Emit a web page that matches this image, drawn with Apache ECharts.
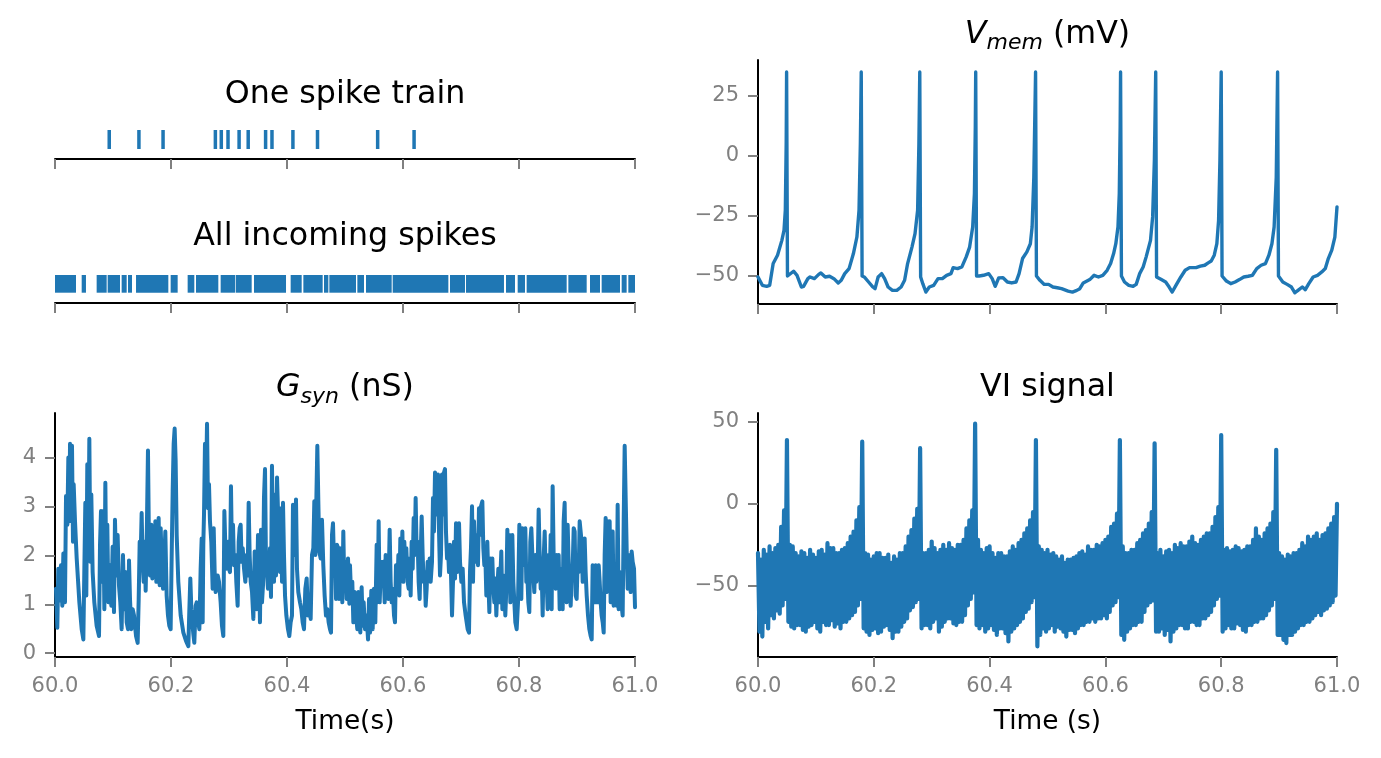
<!DOCTYPE html>
<html><head><meta charset="utf-8">
<script src="https://cdn.jsdelivr.net/npm/echarts@6/dist/echarts.min.js"></script>
<style>html,body{margin:0;padding:0;background:#fff}#c{width:1381px;height:758px}</style>
</head><body><div id="c"></div>
<script>
// ---------- DATA (times in ms after t = 60 s unless noted) ----------
const spikeTrainTimes = [93.5, 144.7, 186.3, 276.5, 286.7, 298.3, 317.4, 333.1, 363.1, 374.1, 410.2, 452.6, 556.3, 619.1];

// merged runs of incoming spikes [start ms, end ms]
const incomingBursts = [[0,36.2],[46,53.4],[71.8,89.1],[90.8,112.1],[114.9,123.6],[125.9,132.8],[139.7,195.4],[199.4,211.5],[228.7,240.2],[243.1,281.6],[285.6,310.3],[311.5,339.1],[343.1,398.3],[406.3,425.3],[428.2,461.5],[463.8,471.3],[473,519],[521.3,532.8],[536.2,580.5],[582.2,678.2],[681,706.9],[708.6,774.1],[777.6,793.1],[797.7,810.3],[813.2,882.2],[885.1,916.7],[922.4,939.7],[942.5,974.1],[977,985.6],[988.5,1000]];

// membrane potential [ms, mV]
const vmemSamples = [[0,-50.7],[7.5,-54.2],[15,-54.6],[20.2,-54.2],[26.2,-45.1],[33.7,-41.6],[41.2,-35.4],[44.9,-31.2],[47.2,-22.8],[48.7,5.1],[49.4,35.0],[50.9,-50.3],[53.9,-51.0],[61.4,-48.3],[67.4,-50.0],[74.9,-54.9],[78.7,-54.6],[86.1,-51.4],[89.9,-50.7],[97.4,-51.4],[104.9,-49.6],[108.6,-49.0],[116.1,-50.7],[123.6,-50.4],[131.1,-51.4],[138.6,-53.2],[143.8,-52.1],[149.8,-49.3],[157.3,-47.2],[164.8,-40.9],[170.8,-34.0],[174.5,-22.8],[176.8,5.1],[178.3,35.0],[179.8,-50.3],[183.5,-50.7],[191.0,-52.8],[198.5,-54.9],[202.2,-55.6],[207.5,-50.7],[213.5,-49.3],[218.7,-51.4],[224.7,-54.9],[232.2,-56.3],[239.7,-56.3],[247.2,-54.9],[253.2,-52.1],[258.4,-45.1],[265.9,-38.2],[271.2,-32.6],[275.7,-22.8],[277.9,5.1],[279.4,35.0],[280.9,-50.7],[284.6,-53.5],[289.9,-57.0],[295.9,-54.9],[303.4,-54.2],[310.9,-51.4],[318.4,-51.4],[325.8,-50.0],[333.3,-49.3],[337.1,-46.8],[344.6,-47.2],[352.1,-46.5],[359.6,-42.3],[365.5,-38.2],[370.8,-29.8],[373.8,-15.8],[375.3,12.0],[376.0,35.0],[377.5,-50.3],[382.0,-50.3],[389.5,-50.0],[398.5,-49.3],[404.5,-51.4],[409.7,-54.6],[415.7,-51.1],[423.2,-51.0],[430.7,-52.8],[438.2,-53.2],[445.7,-52.8],[450.9,-49.3],[456.9,-43.0],[464.4,-40.2],[470.4,-36.8],[473.4,-29.8],[476.4,-8.9],[479.4,35.0],[480.9,-50.3],[486.9,-52.1],[494.4,-53.8],[501.9,-53.8],[509.4,-54.9],[516.9,-55.2],[524.3,-55.6],[535.6,-56.6],[543.1,-57.0],[550.6,-56.3],[555.8,-55.6],[561.8,-53.2],[573.0,-51.8],[580.5,-50.0],[588.0,-50.7],[595.5,-50.0],[603.0,-47.9],[609.0,-45.1],[614.2,-40.9],[618.0,-36.8],[621.7,-29.8],[624.0,-15.8],[625.5,12.0],[626.2,35.0],[627.7,-50.3],[633.0,-52.8],[640.4,-54.2],[647.9,-54.6],[653.2,-53.8],[659.2,-49.3],[665.2,-46.5],[670.4,-42.3],[677.9,-35.4],[681.6,-25.6],[684.6,-1.9],[686.9,35.0],[688.4,-50.7],[696.6,-51.8],[704.1,-52.8],[710.1,-54.9],[715.4,-57.0],[722.8,-53.8],[730.3,-50.7],[737.8,-47.9],[745.3,-46.8],[756.6,-46.8],[764.0,-46.2],[771.5,-45.8],[777.5,-44.8],[782.8,-44.0],[788.0,-41.6],[792.5,-36.8],[795.5,-27.0],[797.8,-1.9],[800.0,35.0],[801.5,-50.3],[809.0,-52.4],[816.5,-53.5],[824.0,-52.8],[831.5,-51.8],[839.0,-50.7],[846.4,-50.4],[853.9,-50.0],[861.4,-47.2],[868.9,-45.8],[876.4,-45.1],[882.4,-41.6],[887.6,-36.8],[891.4,-29.8],[895.1,-8.9],[897.4,35.0],[898.9,-50.3],[906.4,-52.8],[913.9,-53.8],[921.3,-54.9],[927.3,-57.3],[932.6,-56.3],[940.1,-54.9],[945.3,-56.0],[951.3,-53.5],[958.8,-50.7],[966.3,-50.0],[973.8,-48.6],[979.8,-47.2],[985.0,-43.0],[991.0,-39.5],[996.3,-34.0],[1000.0,-21.4]];

// synaptic conductance [ms, nS]
const gsynSamples = [[1.7,1.32],[4.0,0.52],[5.7,1.73],[8.6,1.08],[10.3,1.80],[12.6,0.97],[14.4,2.04],[17.2,1.04],[19.0,3.22],[21.3,2.63],[23.0,4.01],[24.7,2.70],[25.9,4.29],[27.6,2.84],[29.3,4.25],[31.0,2.28],[32.2,3.46],[34.5,2.70],[37.4,1.94],[42.0,1.04],[46.0,0.49],[48.9,0.28],[50.6,1.73],[52.3,3.08],[54.0,1.18],[55.7,3.87],[57.5,1.94],[59.2,4.39],[60.9,1.87],[62.6,3.25],[64.9,1.66],[67.8,1.04],[71.8,0.56],[75.9,0.35],[77.6,2.22],[79.3,2.91],[81.0,1.46],[83.3,2.91],[85.1,0.90],[86.8,3.49],[88.5,1.39],[90.2,2.63],[92.0,1.04],[94.8,1.80],[97.1,0.97],[99.4,2.18],[101.7,0.84],[103.4,2.73],[105.7,1.59],[108.0,2.42],[110.3,1.39],[112.6,1.04],[114.9,0.49],[117.2,2.01],[119.5,0.90],[121.3,1.66],[123.6,0.63],[125.9,0.49],[127.6,1.90],[129.3,1.11],[131.6,0.49],[133.9,0.90],[136.2,0.77],[139.7,0.35],[142.5,0.21],[144.3,1.11],[146.0,2.28],[147.7,2.01],[149.4,2.87],[151.1,1.87],[152.9,1.46],[154.6,2.28],[156.3,1.28],[158.0,2.22],[160.3,4.15],[162.1,2.15],[163.8,1.59],[166.1,2.63],[167.8,1.53],[169.5,2.49],[171.3,1.73],[173.0,2.70],[174.7,1.46],[176.4,2.01],[178.7,2.77],[180.5,1.39],[182.2,2.56],[184.5,1.66],[186.2,1.32],[188.5,1.94],[190.2,2.49],[192.5,1.18],[194.8,0.77],[197.1,0.56],[199.4,0.49],[201.1,1.94],[202.9,3.32],[204.6,4.29],[206.3,4.60],[208.0,3.94],[209.8,2.42],[212.6,1.46],[216.7,0.77],[221.3,0.42],[225.9,0.25],[229.9,0.14],[231.6,0.87],[233.3,1.53],[235.1,0.90],[236.8,0.63],[238.5,0.39],[240.2,0.21],[242.5,0.97],[244.3,1.04],[246.0,0.70],[248.9,0.49],[251.1,1.73],[252.9,2.35],[254.6,0.63],[255.7,2.22],[256.9,2.84],[258.6,4.29],[260.3,3.32],[262.1,4.70],[263.8,2.97],[265.5,3.46],[267.2,2.70],[269.5,2.28],[271.8,1.32],[273.6,2.56],[275.3,1.66],[277.0,1.25],[278.7,1.25],[280.5,1.59],[282.8,1.46],[285.6,1.04],[287.9,0.56],[290.2,0.35],[292.0,2.91],[294.3,1.94],[296.0,1.73],[298.3,2.28],[300.0,1.73],[301.7,1.66],[303.4,3.42],[305.2,1.94],[306.9,2.63],[308.6,1.80],[310.9,2.01],[312.6,1.46],[314.9,0.97],[316.7,2.28],[318.4,2.56],[320.1,2.63],[321.8,1.87],[323.6,2.15],[325.9,1.73],[328.2,1.46],[330.5,2.01],[332.2,1.59],[333.9,3.08],[335.6,2.01],[337.4,1.46],[339.7,1.25],[342.0,0.70],[344.3,2.08],[346.0,1.46],[347.7,0.90],[350.0,2.42],[351.7,1.80],[353.4,0.63],[355.2,2.53],[356.9,1.04],[358.6,1.39],[360.3,3.18],[362.1,3.77],[363.8,1.80],[365.5,1.59],[367.2,1.32],[369.0,1.32],[370.7,2.15],[372.4,1.15],[374.1,3.84],[375.9,2.22],[377.6,1.46],[379.3,3.25],[381.0,1.59],[382.8,3.60],[384.5,2.91],[386.2,1.87],[387.9,1.66],[389.7,2.97],[391.4,1.46],[393.1,3.08],[394.8,2.01],[396.6,1.18],[398.9,0.77],[401.7,0.49],[404.0,0.35],[406.3,0.63],[408.6,0.77],[410.3,3.04],[412.1,2.15],[413.8,2.01],[415.5,3.15],[417.2,1.73],[419.5,1.25],[422.4,1.04],[424.7,0.90],[427.0,0.63],[429.3,0.49],[431.6,1.32],[433.9,1.53],[436.2,0.77],[438.5,1.11],[440.8,0.70],[443.1,2.01],[445.4,2.15],[447.1,3.11],[448.9,2.01],[450.6,3.15],[452.3,4.25],[454.0,3.11],[455.7,2.08],[458.0,1.94],[460.3,2.73],[462.6,1.80],[464.9,1.18],[467.2,0.77],[469.5,0.90],[471.8,0.63],[474.1,0.49],[475.9,0.42],[477.6,2.42],[479.3,2.66],[481.0,1.87],[482.8,2.15],[484.5,1.11],[486.2,2.22],[487.9,2.15],[489.7,1.11],[491.4,2.15],[493.7,1.94],[495.4,1.04],[497.1,2.49],[498.9,1.32],[500.6,1.87],[502.9,1.11],[505.2,1.94],[507.5,1.01],[508.6,1.80],[510.9,1.04],[512.6,1.46],[514.4,0.63],[516.7,1.25],[519.0,0.77],[521.3,0.49],[523.0,1.25],[524.7,0.63],[526.4,0.42],[528.7,1.35],[530.5,0.56],[532.2,1.04],[534.5,0.49],[537.4,0.77],[539.7,0.28],[541.4,1.11],[543.1,0.42],[545.4,1.28],[547.7,0.49],[550.0,1.32],[552.3,0.63],[554.6,2.22],[556.3,1.04],[558.0,2.70],[559.8,1.04],[562.1,1.87],[564.4,1.39],[566.1,1.87],[568.4,1.04],[570.1,2.01],[572.4,1.46],[574.7,1.11],[577.0,2.53],[578.7,1.46],[580.5,1.04],[582.2,1.32],[584.5,0.77],[586.2,0.63],[587.9,1.80],[590.2,1.25],[592.0,2.01],[593.7,1.18],[595.4,2.35],[597.1,1.59],[598.9,2.49],[600.6,1.46],[602.3,2.28],[604.0,1.73],[605.7,2.15],[608.0,1.46],[609.8,1.32],[611.5,1.94],[613.2,1.18],[614.9,2.28],[616.7,1.73],[618.4,2.77],[620.1,2.01],[621.8,3.18],[623.6,2.01],[625.3,2.28],[627.0,1.46],[628.7,1.11],[630.5,2.01],[632.2,2.80],[633.9,2.01],[635.6,1.46],[637.4,1.66],[639.1,0.97],[640.8,1.32],[642.5,1.87],[644.3,1.73],[646.0,1.94],[647.7,1.46],[650.0,1.87],[651.7,3.18],[653.4,2.49],[655.2,3.70],[656.9,2.84],[658.6,3.32],[660.3,3.66],[662.1,2.49],[663.8,1.59],[665.5,2.01],[667.2,3.66],[669.0,2.84],[670.7,3.70],[672.4,3.77],[674.1,2.49],[675.9,1.94],[677.6,2.15],[679.3,1.66],[681.0,2.22],[682.8,1.59],[684.5,0.77],[686.2,1.46],[687.9,2.28],[689.7,1.53],[691.4,2.66],[693.1,1.66],[694.8,2.15],[696.6,2.66],[698.3,1.87],[700.6,1.46],[702.9,1.73],[705.2,1.04],[708.0,0.77],[711.5,0.49],[713.8,0.42],[715.5,1.66],[717.2,2.15],[719.0,3.01],[720.7,1.46],[722.4,2.70],[724.1,2.01],[725.9,1.87],[727.6,2.42],[729.3,1.80],[731.0,2.97],[732.8,2.42],[734.5,3.01],[736.8,3.11],[738.5,2.15],[740.2,1.80],[741.9,2.01],[743.7,1.18],[745.4,2.28],[747.1,1.53],[748.9,0.84],[750.6,1.94],[752.3,1.39],[754.0,1.94],[755.7,1.32],[757.5,1.04],[759.2,1.53],[760.9,0.77],[762.6,1.32],[764.4,1.73],[766.1,1.04],[767.8,1.53],[769.5,2.08],[771.3,0.90],[773.0,1.59],[774.7,1.32],[776.4,0.77],[778.2,1.32],[779.9,2.53],[781.6,1.59],[783.3,2.42],[785.1,1.04],[786.8,1.32],[788.5,2.42],[790.2,1.46],[792.0,1.04],[793.7,0.63],[796.0,0.49],[798.3,1.04],[800.6,2.63],[802.3,2.01],[804.0,1.11],[805.7,2.56],[807.5,1.80],[809.2,1.87],[810.9,2.56],[812.6,1.46],[814.4,1.59],[816.1,1.04],[817.8,0.84],[819.5,2.28],[821.3,2.56],[823.0,2.01],[824.7,1.59],[826.4,1.25],[828.2,2.01],[829.9,1.46],[832.2,1.73],[833.9,2.94],[835.6,2.01],[837.4,1.32],[839.1,1.66],[840.8,0.77],[842.5,1.94],[844.3,2.49],[846.0,1.59],[847.7,1.46],[849.4,0.90],[851.1,2.01],[852.9,1.46],[854.6,2.42],[856.3,0.90],[858.0,3.42],[859.8,1.94],[861.5,1.87],[863.2,1.32],[864.9,2.01],[866.7,1.59],[868.4,2.01],[870.1,0.90],[871.8,1.59],[873.6,1.73],[875.3,0.90],[877.0,2.70],[878.7,3.08],[880.5,1.46],[882.2,1.04],[883.9,2.63],[885.6,1.87],[887.4,1.32],[889.1,0.97],[890.8,1.59],[892.5,1.73],[894.3,2.56],[896.0,2.49],[897.7,1.18],[899.4,1.11],[901.1,1.87],[902.9,1.66],[904.6,2.70],[906.3,2.70],[908.0,2.28],[909.8,1.46],[911.5,1.80],[913.2,2.35],[914.9,1.66],[916.7,1.18],[919.0,0.77],[921.3,0.49],[923.6,0.35],[925.3,0.28],[927.0,1.80],[928.7,1.80],[930.5,1.04],[932.2,1.80],[933.9,1.80],[935.6,1.04],[937.4,1.80],[939.1,1.46],[940.8,1.04],[942.5,0.77],[944.3,0.63],[946.0,0.42],[947.7,2.01],[949.4,2.77],[951.1,1.25],[952.9,2.70],[954.6,2.28],[956.3,2.70],[958.0,1.04],[959.8,2.35],[961.5,2.49],[963.2,0.97],[964.9,1.04],[966.7,1.59],[968.4,0.97],[970.1,3.04],[971.8,0.90],[973.6,1.66],[975.3,1.46],[977.0,0.97],[978.7,0.77],[980.5,2.70],[982.2,4.25],[983.9,3.18],[985.6,2.15],[987.4,1.32],[989.1,2.01],[990.8,2.01],[992.5,1.25],[994.3,2.08],[996.0,1.87],[998.3,1.73],[1000.0,0.94]];

// VI signal, one value every viSampleMs
const viSampleMs = 2.5;
const viValues = [
-30,-78,-34,-81, -28,-72,-31,-76, -26,-68,-30,-70, -27,-65,-25,-67, -14,-62,-4,-58,
39,-72,-25,-75, -26,-76,-30,-74, -32,-74,-29,-77, -30,-78,-33,-75, -28,-74,-31,-72,
-33,-76,-29,-78, -28,-72,-31,-74, -24,-74,-27,-71, -27,-75,-30,-73, -30,-76,-28,-72,
-27,-72,-24,-70, -20,-68,-17,-66, -10,-62,-2,-58, 38,-76,-30,-78, -31,-80,-34,-77,
-32,-76,-30,-79, -30,-78,-33,-75, -33,-74,-31,-77, -36,-82,-32,-78, -34,-78,-30,-75,
-30,-72,-26,-70, -20,-65,-16,-63, -9,-60,-3,-58, 34,-76,-30,-74, -30,-74,-28,-76,
-23,-72,-27,-70, -30,-78,-28,-75, -25,-72,-28,-70, -24,-70,-27,-73, -28,-74,-25,-72,
-25,-72,-22,-68, -15,-62,-10,-58, -4,-54,49,-74, -22,-76,-28,-74, -30,-78,-27,-76,
-26,-74,-30,-77, -33,-80,-30,-76, -30,-76,-32,-79, -32,-84,-29,-78, -26,-76,-28,-74,
-24,-72,-22,-70, -18,-66,-15,-64, -10,-60,-5,-57, 39,-87,-26,-80, -28,-76,-30,-78,
-28,-76,-31,-74, -30,-78,-32,-75, -34,-76,-32,-78, -36,-81,-34,-77, -34,-77,-33,-79,
-32,-76,-30,-74, -29,-74,-31,-72, -26,-72,-28,-70, -28,-72,-25,-70, -26,-70,-24,-68,
-22,-70,-20,-66, -14,-62,-12,-60, -6,-57,39,-80, -26,-83,-30,-78, -30,-76,-28,-74,
-28,-74,-24,-72, -22,-72,-18,-66, -16,-62,-12,-60, -5,-59,37,-78, -30,-78,-28,-76,
-32,-80,-29,-77, -28,-84,-30,-78, -25,-76,-27,-74, -24,-74,-26,-76, -26,-76,-23,-72,
-20,-72,-24,-74, -25,-74,-22,-70, -20,-70,-18,-68, -18,-66,-14,-62, -8,-58,-2,-56,
42,-78,-28,-76, -27,-74,-29,-76, -28,-76,-26,-73, -27,-74,-29,-77, -28,-78,-26,-74,
-26,-74,-22,-72, -15,-72,-20,-70, -22,-70,-18,-68, -15,-65,-12,-62, -5,-58,33,-80,
-30,-80,-32,-83, -34,-85,-31,-80, -32,-80,-30,-78, -30,-76,-28,-74, -24,-74,-26,-72,
-20,-72,-22,-70, -20,-68,-18,-66, -22,-68,-19,-65, -18,-64,-15,-62, -12,-60,-8,-56,
0];

const timeTicks = [60, 60.2, 60.4, 60.6, 60.8, 61];
const vmemTicks = [-50, -25, 0, 25];
const gsynTicks = [0, 1, 2, 3, 4];
const viTicks = [-50, 0, 50];

// ---------- CHART ----------
const T0 = 60;
const toSec = ms => T0 + ms / 1000;
const BLUE = '#1f77b4';
const GRAY = '#808080';
const FONT = 'DejaVu Sans';
const minus = v => (v < 0 ? '\u2212' + Math.abs(v) : String(v));

function xAxisCfg(gi, showLabels) {
  return {
    type: 'value', gridIndex: gi, min: 60, max: 61,
    splitLine: {show: false},
    axisLine: {show: true, onZero: false, lineStyle: {color: '#000', width: 2}},
    axisTick: {show: true, length: 10, customValues: timeTicks, lineStyle: {color: GRAY, width: 2}},
    axisLabel: {show: showLabels, customValues: timeTicks, formatter: v => v.toFixed(1),
      color: GRAY, fontSize: 21, fontFamily: FONT, margin: 19}
  };
}
function yAxisCfg(gi, min, max, ticks) {
  return {
    type: 'value', gridIndex: gi, min, max,
    splitLine: {show: false},
    axisLine: {show: true, onZero: false, lineStyle: {color: '#000', width: 2}},
    axisTick: {show: true, length: 10, customValues: ticks, lineStyle: {color: GRAY, width: 2}},
    axisLabel: {show: true, customValues: ticks, formatter: minus,
      color: GRAY, fontSize: 21, fontFamily: FONT, margin: 19}
  };
}
const hiddenY = gi => ({type: 'value', gridIndex: gi, min: 0, max: 1, show: false});

const titleBase = {textAlign: 'center', textVerticalAlign: 'middle', padding: 0};
const tStyle = {fontFamily: FONT, fontSize: 31.7, fontWeight: 'normal', color: '#000'};
const richMath = {
  it: {fontFamily: FONT, fontStyle: 'italic', fontWeight: 'normal', fontSize: 31.7, lineHeight: 40, color: '#000'},
  sub: {fontFamily: FONT, fontStyle: 'italic', fontWeight: 'normal', fontSize: 22, lineHeight: 40, verticalAlign: 'bottom', color: '#000'},
  n: {fontFamily: FONT, fontWeight: 'normal', fontSize: 31.7, lineHeight: 40, color: '#000'}
};
const mathStyle = {fontFamily: FONT, fontWeight: 'normal', fontSize: 31.7, color: '#000', rich: richMath};

const option = {
  animation: false,
  backgroundColor: '#fff',
  grid: [
    {left: 55, top: 121, width: 580, height: 38},
    {left: 55, top: 263, width: 580, height: 40},
    {left: 758, top: 60, width: 579, height: 244},
    {left: 55, top: 413, width: 580, height: 244},
    {left: 758, top: 413, width: 579, height: 244}
  ],
  title: [
    Object.assign({text: 'One spike train', left: 345, top: 95, textStyle: tStyle}, titleBase),
    Object.assign({text: 'All incoming spikes', left: 345, top: 237, textStyle: tStyle}, titleBase),
    Object.assign({text: '{it|V}{sub|mem}{n| (mV)}', left: 1047.5, top: 34.5, textStyle: mathStyle}, titleBase),
    Object.assign({text: '{it|G}{sub|syn}{n| (nS)}', left: 345, top: 388, textStyle: mathStyle}, titleBase),
    Object.assign({text: 'VI signal', left: 1047.5, top: 388, textStyle: tStyle}, titleBase),
    Object.assign({text: 'Time(s)', left: 345, top: 722, textStyle: {fontFamily: FONT, fontSize: 26.4, fontWeight: 'normal', color: '#000'}}, titleBase),
    Object.assign({text: 'Time (s)', left: 1047.5, top: 722, textStyle: {fontFamily: FONT, fontSize: 26.4, fontWeight: 'normal', color: '#000'}}, titleBase)
  ],
  xAxis: [xAxisCfg(0, false), xAxisCfg(1, false), xAxisCfg(2, false), xAxisCfg(3, true), xAxisCfg(4, true)],
  yAxis: [hiddenY(0), hiddenY(1), yAxisCfg(2, -62, 40, vmemTicks), yAxisCfg(3, -0.08, 4.92, gsynTicks), yAxisCfg(4, -93.5, 55.5, viTicks)],
  series: [
    {
      type: 'custom', xAxisIndex: 0, yAxisIndex: 0, silent: true,
      data: spikeTrainTimes.map(ms => [toSec(ms), 0.5]),
      renderItem: (params, api) => {
        const a = api.coord([api.value(0), 0.263]);
        const b = api.coord([api.value(0), 0.763]);
        return {type: 'line', shape: {x1: a[0], y1: a[1], x2: b[0], y2: b[1]}, style: {stroke: BLUE, lineWidth: 3.5}};
      }
    },
    {
      type: 'custom', xAxisIndex: 1, yAxisIndex: 1, silent: true,
      data: incomingBursts.map(r => [toSec(r[0]), toSec(r[1])]),
      encode: {x: [0, 1]},
      renderItem: (params, api) => {
        const a = api.coord([api.value(0), 0.2575]);
        const b = api.coord([api.value(1), 0.7]);
        return {type: 'rect', shape: {x: a[0], y: b[1], width: b[0] - a[0], height: a[1] - b[1]}, style: {fill: BLUE}};
      }
    },
    {
      type: 'line', xAxisIndex: 2, yAxisIndex: 2, silent: true, showSymbol: false, symbol: 'none',
      data: vmemSamples.map(p => [toSec(p[0]), p[1]]),
      lineStyle: {color: BLUE, width: 3.4, join: 'round', cap: 'round'}
    },
    {
      type: 'line', xAxisIndex: 3, yAxisIndex: 3, silent: true, showSymbol: false, symbol: 'none',
      data: gsynSamples.map(p => [toSec(p[0]), p[1]]),
      lineStyle: {color: BLUE, width: 4, join: 'round', cap: 'round'}
    },
    {
      type: 'line', xAxisIndex: 4, yAxisIndex: 4, silent: true, showSymbol: false, symbol: 'none',
      data: viValues.map((v, i) => [toSec(i * viSampleMs), v]),
      lineStyle: {color: BLUE, width: 4.2, join: 'round', cap: 'round'}
    }
  ]
};
const chart = echarts.init(document.getElementById('c'), null, {renderer: 'canvas'});
chart.setOption(option);
</script>
</body></html>
